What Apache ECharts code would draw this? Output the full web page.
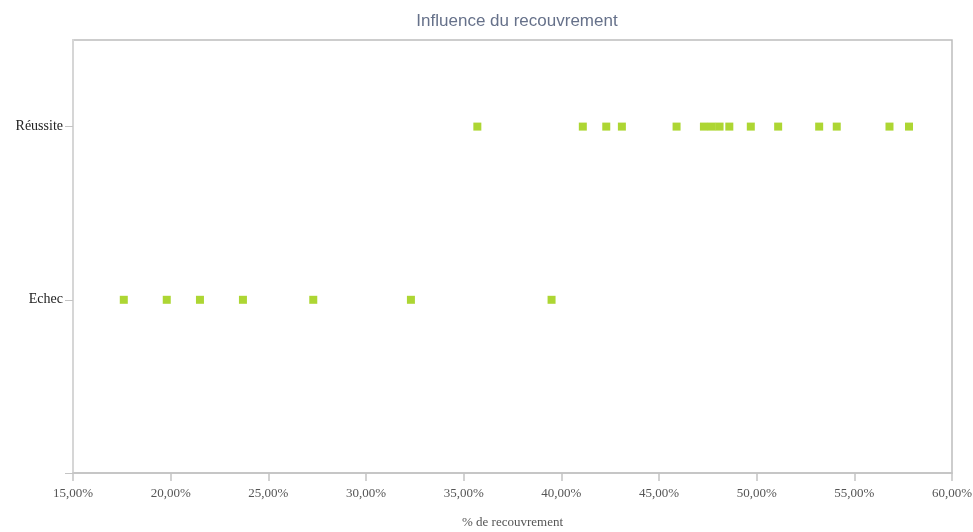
<!DOCTYPE html>
<html>
<head>
<meta charset="utf-8">
<script src="https://cdn.jsdelivr.net/npm/echarts@6/dist/echarts.min.js"></script>
<style>
  html, body { margin: 0; padding: 0; background: #fff; }
  #chart { width: 973px; height: 532px; }
</style>
</head>
<body>
<div id="chart"></div>
<script>
// y categories (value 1 = Echec, value 2 = Réussite)
const outcomes = ['Echec', 'Réussite']

// % de recouvrement
const echecValues = [17.6, 19.8, 21.5, 23.7, 27.3, 32.3, 39.5]
const reussiteValues = [35.7, 41.1, 42.3, 43.1, 45.9, 47.3, 47.7, 48.1, 48.6, 49.7, 51.1, 53.2, 54.1, 56.8, 57.8]

const xTicks = { min: 15, max: 60, step: 5 }
const yTickValues = [0, 1, 2]

const fmtPct = v => v.toFixed(2).replace('.', ',') + '%'

const chart = echarts.init(document.getElementById('chart'))

chart.setOption({
  backgroundColor: '#fff',
  animation: false,
  title: {
    text: 'Influence du recouvrement',
    left: 512,
    textAlign: 'center',
    top: 8,
    textStyle: {
      fontFamily: 'Liberation Sans',
      fontSize: 17,
      fontWeight: 'normal',
      color: '#66718a'
    }
  },
  grid: {
    left: 73,
    right: 21,
    top: 40,
    bottom: 59,
    containLabel: false,
    outerBoundsMode: 'none',
    show: true,
    borderColor: '#bdbdbd',
    borderWidth: 1.5,
    backgroundColor: 'transparent'
  },
  xAxis: {
    type: 'value',
    min: xTicks.min,
    max: xTicks.max,
    interval: xTicks.step,
    name: '% de recouvrement',
    nameLocation: 'middle',
    nameGap: 43,
    nameTextStyle: {
      fontFamily: 'Liberation Serif',
      fontSize: 13,
      color: '#555'
    },
    axisLine: { lineStyle: { color: '#c4c4c4', width: 1.5 } },
    axisTick: { length: 8, lineStyle: { color: '#c4c4c4', width: 1.5 } },
    axisLabel: {
      formatter: fmtPct,
      margin: 14,
      fontFamily: 'Liberation Serif',
      fontSize: 13,
      color: '#555'
    },
    splitLine: { show: false }
  },
  yAxis: {
    type: 'value',
    min: 0,
    max: 2.5,
    interval: 1,
    axisLine: { show: true, lineStyle: { color: '#d6d6d6', width: 2 } },
    axisTick: { show: true, length: 8, customValues: yTickValues, lineStyle: { color: '#c4c4c4', width: 1 } },
    axisLabel: {
      customValues: yTickValues,
      formatter: v => outcomes[v - 1] || '',
      margin: 10,
      fontFamily: 'Liberation Serif',
      fontSize: 14,
      color: '#222'
    },
    splitLine: { show: false }
  },
  series: [
    {
      name: outcomes[0],
      type: 'scatter',
      symbol: 'rect',
      symbolSize: 8,
      itemStyle: { color: '#99cc00' },
      data: echecValues.map(v => [v, 1])
    },
    {
      name: outcomes[1],
      type: 'scatter',
      symbol: 'rect',
      symbolSize: 8,
      itemStyle: { color: '#99cc00' },
      data: reussiteValues.map(v => [v, 2])
    }
  ]
})
</script>
</body>
</html>
